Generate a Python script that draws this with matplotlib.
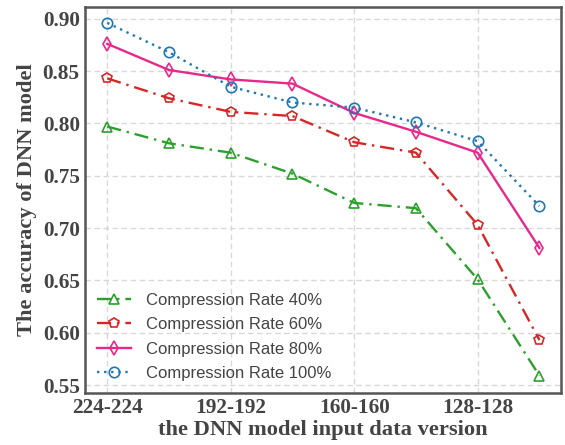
import matplotlib
matplotlib.use("Agg")
import matplotlib.pyplot as plt

x_pos = [0, 1, 2, 3, 4, 5, 6, 7]
tick_pos = [0, 2, 4, 6]
tick_labels = ["224-224", "192-192", "160-160", "128-128"]

labels = ["Compression Rate 40%", "Compression Rate 60%",
          "Compression Rate 80%", "Compression Rate 100%"]
rate40 = [0.797, 0.781, 0.772, 0.752, 0.724, 0.719, 0.651, 0.559]
rate60 = [0.843, 0.824, 0.811, 0.807, 0.782, 0.772, 0.703, 0.593]
rate80 = [0.876, 0.851, 0.842, 0.838, 0.810, 0.792, 0.772, 0.681]
rate100 = [0.896, 0.868, 0.835, 0.820, 0.815, 0.801, 0.783, 0.721]

series = [rate40, rate60, rate80, rate100]
colors = ["#2ca02c", "#d62728", "#e7298a", "#1f77b4"]
markers = ["^", "p", "d", "o"]
styles = [(0, (6, 2.5, 1, 2.5)), (0, (6, 2.5, 1, 2.5)), "-", (0, (1, 2))]

fig = plt.figure(figsize=(5.65, 4.45), dpi=100)
ax = fig.add_axes([0.151, 0.117, 0.842, 0.868])

for vals, c, m, ls, lab in zip(series, colors, markers, styles, labels):
    ax.plot(x_pos, vals, color=c, marker=m, linestyle=ls, linewidth=1.7,
            markersize=7.5, markerfacecolor="none", markeredgewidth=1.2, label=lab)

ax.set_xlim(-0.355, 7.35)
ax.set_ylim(0.5425, 0.9115)
ax.set_xticks(tick_pos)
ax.set_xticklabels(tick_labels)
ax.set_yticks([0.55, 0.60, 0.65, 0.70, 0.75, 0.80, 0.85, 0.90])
ax.set_yticklabels(["0.55", "0.60", "0.65", "0.70", "0.75", "0.80", "0.85", "0.90"])
ax.grid(True, linestyle=(0, (4, 2.5)), color="#d8d8d8", linewidth=1.0)
ax.set_axisbelow(True)

serif = dict(family="Liberation Serif", weight="bold", color="#444444")
for t in ax.get_xticklabels() + ax.get_yticklabels():
    t.set_fontfamily("Liberation Serif")
    t.set_fontweight("bold")
    t.set_fontsize(15.3)
    t.set_color("#444444")
ax.tick_params(length=0, pad=4)
ax.set_xlabel("the DNN model input data version", fontsize=16.2, labelpad=1, **serif)
ax.set_ylabel("The accuracy of DNN model", fontsize=16.2, labelpad=4, **serif)

for s in ax.spines.values():
    s.set_color("#555555")
    s.set_linewidth(1.8)

leg = ax.legend(loc="lower left", frameon=False,
                prop={"family": "Liberation Sans", "size": 12},
                handlelength=2.0, handletextpad=0.9, borderaxespad=0.27,
                borderpad=0.45, labelspacing=0.56)
for t in leg.get_texts():
    t.set_color("#444444")

fig.savefig("out.png", dpi=100)
